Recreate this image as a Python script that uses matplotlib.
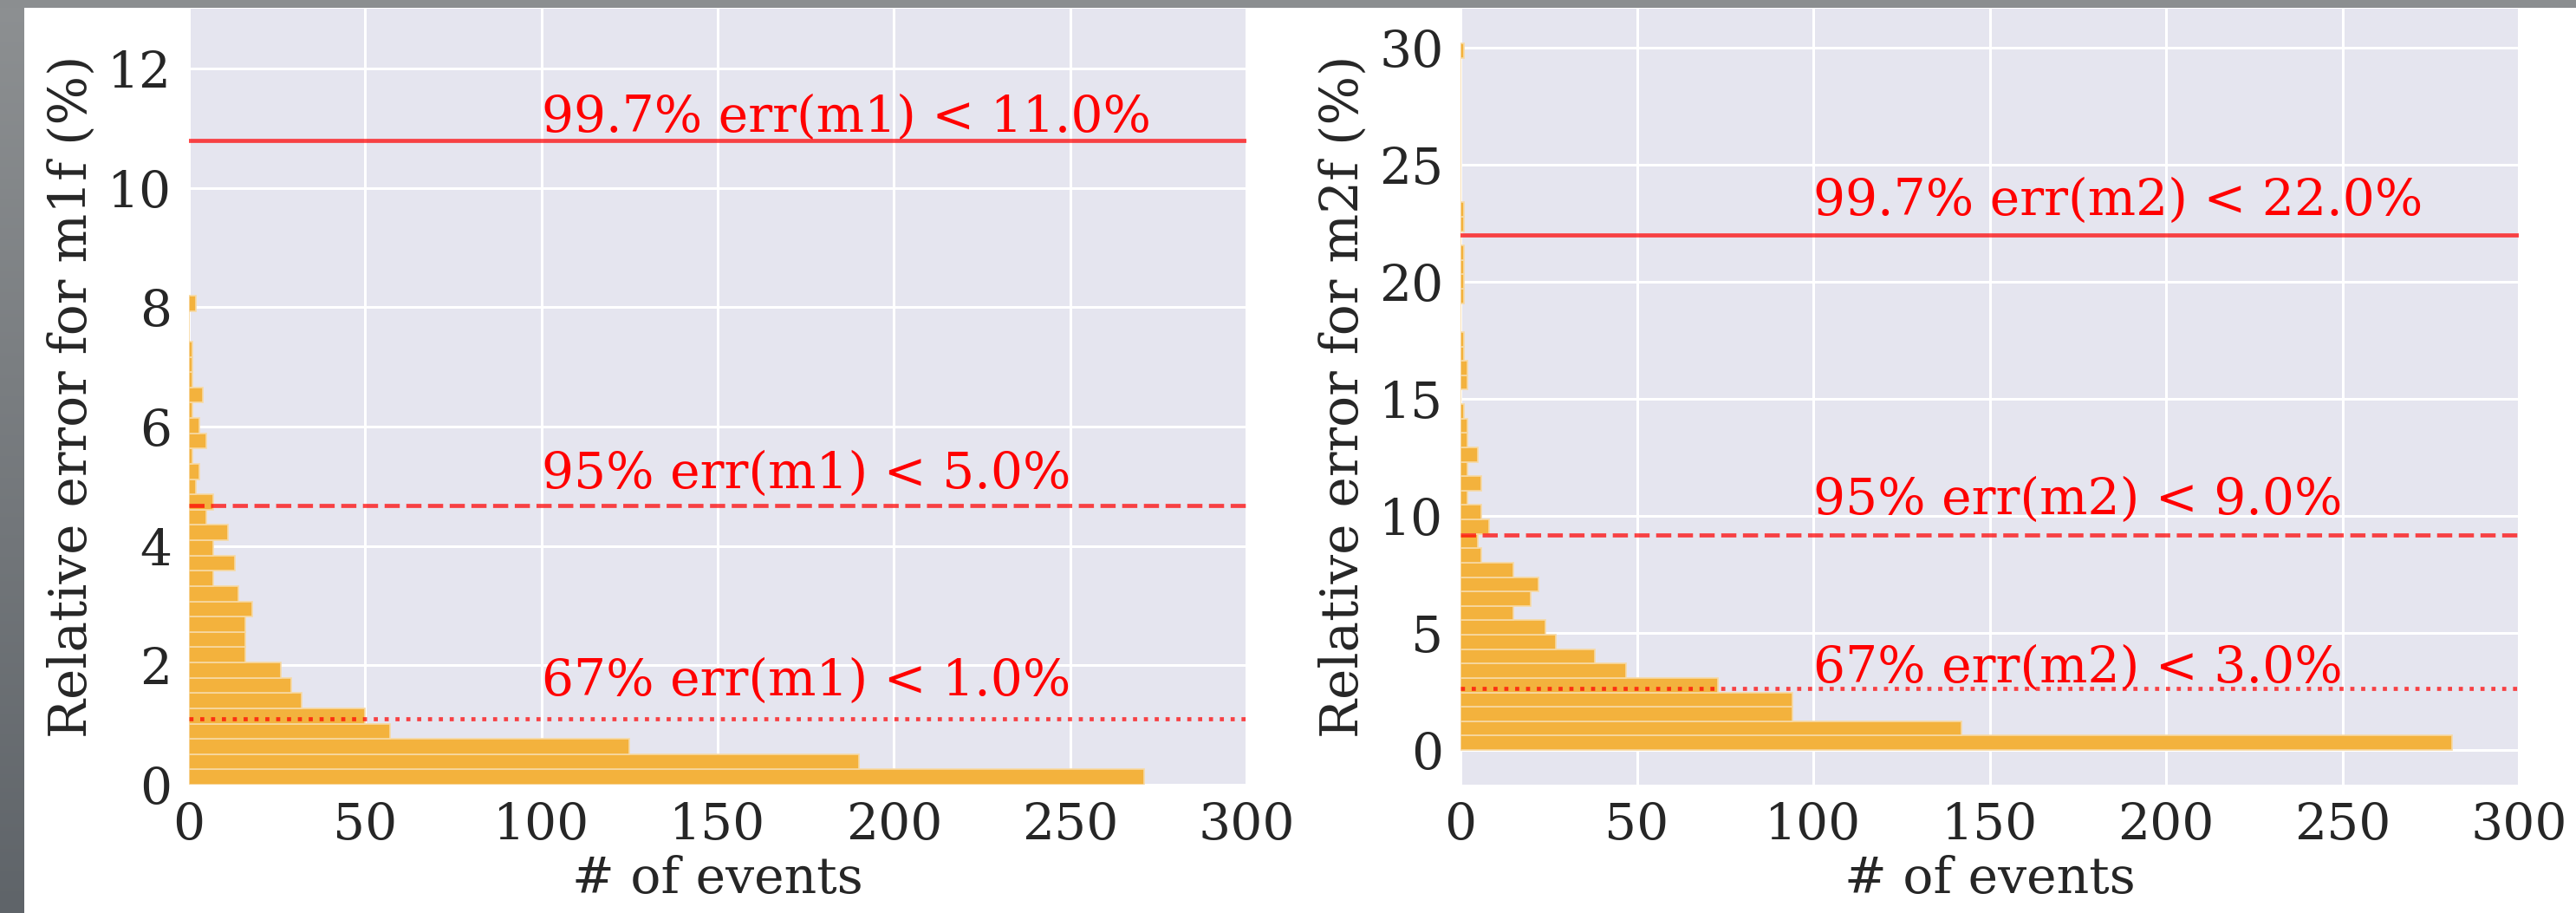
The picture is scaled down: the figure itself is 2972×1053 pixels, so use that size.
import numpy as np
import matplotlib
matplotlib.use("Agg")
import matplotlib.pyplot as plt
from matplotlib.patches import Rectangle

# ---------------- data ----------------
# left panel: relative error for m1f, histogram bins from 0 to 8.19 (%)
m1_bin_lo, m1_bin_hi = 0.0, 8.19
m1_counts = [271, 190, 125, 57, 50, 32, 29, 26, 16, 16, 16, 18, 14, 7, 13, 7,
             11, 5, 7, 2, 3, 1, 5, 3, 1, 4, 1, 1, 1, 0, 0, 2]
m1_lines = [10.79, 4.68, 1.10]
m1_labels = ["99.7% err(m1) < 11.0%", "95% err(m1) < 5.0%", "67% err(m1) < 1.0%"]
m1_label_y = [10.94, 4.97, 1.50]

# right panel: relative error for m2f, histogram bins from 0 to 30.17 (%)
m2_bin_lo, m2_bin_hi = 0.0, 30.17
m2_counts = [281, 142, 94, 94, 73, 47, 38, 27, 24, 15, 20, 22, 15, 6, 5, 8,
             6, 2, 6, 2, 5, 2, 2, 1, 0, 2, 2, 1, 1, 0, 0, 1, 1, 1, 1, 0,
             1, 1, 0, 0, 0, 0, 0, 0, 0, 0, 0, 0, 1]
m2_lines = [22.0, 9.2, 2.63]
m2_labels = ["99.7% err(m2) < 22.0%", "95% err(m2) < 9.0%", "67% err(m2) < 3.0%"]
m2_label_y = [22.85, 10.06, 2.88]

line_styles = ["-", "--", ":"]
x_ticks = [0, 50, 100, 150, 200, 250, 300]

# ---------------- style ----------------
W, H = 2972, 1053
DPI = 100
FS = 42
BG = "#E5E5EF"
BAR = "#F3B23D"
plt.rcParams["font.family"] = ["DejaVu Serif"]

fig = plt.figure(figsize=(W / DPI, H / DPI), dpi=DPI, facecolor="white")

# slide-screenshot frame (grey strip at top and left)
gax = fig.add_axes([0, 0, 28 / W, 1])
grad = np.linspace(0, 1, 256).reshape(-1, 1)
gax.imshow(grad, aspect="auto", cmap=matplotlib.colors.LinearSegmentedColormap.from_list(
    "g", ["#8d9092", "#5f6469"]), extent=[0, 1, 0, 1])
gax.axis("off")
fig.patches.append(Rectangle((0, 1 - 9 / H), 1, 9 / H, transform=fig.transFigure,
                             facecolor="#8b8e90", edgecolor="none", zorder=5))


def panel(rect, lo, hi, counts, lines, labels, label_y, ylim, yticks, ylabel):
    ax = fig.add_axes(rect)
    ax.set_facecolor(BG)
    edges = np.linspace(lo, hi, len(counts) + 1)
    ax.barh(edges[:-1], counts, height=np.diff(edges), align="edge",
            color=BAR, edgecolor="#F7D9A4", linewidth=1.2, zorder=2)
    for yv, ls, lab, ly in zip(lines, line_styles, labels, label_y):
        ax.axhline(yv, color="red", alpha=0.72, lw=3.4, ls=ls, zorder=3)
        ax.text(100, ly, lab, color="red", fontsize=FS, zorder=4)
    ax.set_xlim(0, 300)
    ax.set_ylim(*ylim)
    ax.set_xticks(x_ticks)
    ax.set_yticks(yticks)
    ax.grid(True, color="white", lw=2.2, zorder=0)
    ax.set_axisbelow(True)
    for s in ax.spines.values():
        s.set_visible(False)
    ax.tick_params(length=0, labelsize=FS, pad=14, colors="#262626")
    ax.set_xlabel("# of events", fontsize=FS, color="#262626", labelpad=4)
    ax.set_ylabel(ylabel, fontsize=43, color="#262626", labelpad=9)
    return ax


bottom = (H - 905) / H
height = 895 / H
panel([218 / W, bottom, 1220 / W, height], m1_bin_lo, m1_bin_hi, m1_counts,
      m1_lines, m1_labels, m1_label_y, (0, 13), [0, 2, 4, 6, 8, 10, 12],
      "Relative error for m1f (%)")
panel([1685 / W, bottom, 1221 / W, height], m2_bin_lo, m2_bin_hi, m2_counts,
      m2_lines, m2_labels, m2_label_y, (-1.48, 31.67), [0, 5, 10, 15, 20, 25, 30],
      "Relative error for m2f (%)")

fig.savefig("out.png", dpi=DPI, facecolor="white")
